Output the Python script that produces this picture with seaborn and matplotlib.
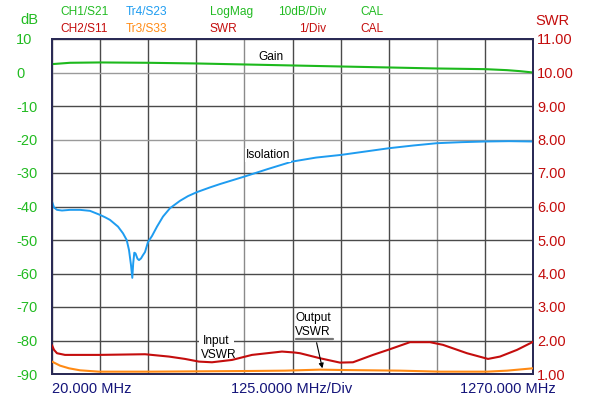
import matplotlib
matplotlib.use("Agg")
import matplotlib.pyplot as plt
import seaborn as sns
import pandas as pd
from matplotlib.lines import Line2D

sns.set_style("white")
plt.rcParams['font.family'] = ['Liberation Sans', 'DejaVu Sans']

# ---------------- data ----------------
gain_freq = [20, 66.8, 144.7, 269.5, 394.2, 519, 643.7, 768.4, 895.8, 1020.5, 1145.3, 1202.5, 1236.3, 1270]
gain_db = [2.5, 2.9, 3.0, 2.9, 2.7, 2.4, 2.1, 1.8, 1.5, 1.2, 1.0, 0.7, 0.4, 0.0]

iso_freq = [20, 25.2, 33, 46, 66.8, 92.8, 118.8, 144.7, 157.7, 170.7, 191.5, 204.5, 214.1, 220.1, 225.3,
            228.7, 231, 233.9, 237, 242.2, 246.1, 251.3, 256.5, 261.7, 269.5, 279.9, 292.9, 308.5,
            326.7, 352.7, 373.4, 396.8, 430.6, 456.6, 519, 581.3, 643.7, 706, 771, 833.4, 895.8,
            958.2, 1020.5, 1082.9, 1145.3, 1207.7, 1270]
iso_db = [-38.5, -40.3, -41.0, -41.2, -41.0, -41.0, -41.3, -42.5, -43.2, -44.0, -46.0, -48.0, -50.0, -53.0, -57.5,
          -61.3, -57, -53.8, -54, -55.6, -56, -55.5, -54.5, -53.6, -50.6, -48.8, -46.0, -43.0,
          -40.5, -38.3, -36.9, -35.7, -34.3, -33.3, -31.1, -28.8, -26.6, -25.4, -24.6, -23.6, -22.6,
          -21.8, -21.1, -20.8, -20.6, -20.5, -20.6]

in_freq = [20, 25.2, 33, 53.8, 142.1, 261.7, 324.1, 365.6, 402, 435.8, 487.8, 539.7, 617.7, 651.5,
           664.5, 716.5, 768.4, 802.2, 854.2, 893.2, 950.3, 1002.3, 1036.1, 1098.5, 1153.1, 1184.2,
           1228.4, 1270]
in_swr = [1.86, 1.72, 1.62, 1.57, 1.57, 1.59, 1.52, 1.45, 1.37, 1.35, 1.42, 1.57, 1.67, 1.64,
          1.62, 1.47, 1.34, 1.35, 1.57, 1.72, 1.95, 1.95, 1.87, 1.62, 1.45, 1.52,
          1.72, 1.96]

out_freq = [20, 40.8, 64.2, 92.8, 142.1, 274.7, 404.6, 534.6, 625.5, 716.5, 768.4, 924.4, 1028.3, 1150.5, 1202.5, 1270]
out_swr = [1.37, 1.25, 1.17, 1.11, 1.07, 1.07, 1.08, 1.09, 1.10, 1.13, 1.12, 1.10, 1.07, 1.07, 1.10, 1.17]

db_ticks = [10, 0, -10, -20, -30, -40, -50, -60, -70, -80, -90]
swr_ticks = [11, 10, 9, 8, 7, 6, 5, 4, 3, 2, 1]
freq_start, freq_stop, freq_div = 20, 1270, 125

# ---------------- colours ----------------
GREEN = '#1db91d'
BLUE = '#1e9cf0'
RED = '#c40d0d'
ORANGE = '#ff8a14'
NAVY = '#14147a'
TXT_GREEN = '#22bb22'

W, H = 600, 403
fig = plt.figure(figsize=(W / 100, H / 100), dpi=100)
L, R, T, B = 52, 533, 39, 374
ax = fig.add_axes([L / W, 1 - B / H, (R - L) / W, (B - T) / H])
ax2 = ax.twinx()

gain_df = pd.DataFrame({'freq': gain_freq, 'val': gain_db})
iso_df = pd.DataFrame({'freq': iso_freq, 'val': iso_db})
in_df = pd.DataFrame({'freq': in_freq, 'val': in_swr})
out_df = pd.DataFrame({'freq': out_freq, 'val': out_swr})

sns.lineplot(data=gain_df, x='freq', y='val', ax=ax, color=GREEN, lw=1.5, estimator=None, sort=False, zorder=5)
sns.lineplot(data=iso_df, x='freq', y='val', ax=ax, color=BLUE, lw=1.4, estimator=None, sort=False, zorder=5)
sns.lineplot(data=in_df, x='freq', y='val', ax=ax2, color=RED, lw=1.5, estimator=None, sort=False, zorder=5)
sns.lineplot(data=out_df, x='freq', y='val', ax=ax2, color=ORANGE, lw=1.5, estimator=None, sort=False, zorder=5)

ax.set_xlim(freq_start, freq_stop)
ax.set_ylim(-90, 10)
ax2.set_ylim(1, 11)
ax.set_xlabel(''); ax.set_ylabel(''); ax2.set_xlabel(''); ax2.set_ylabel('')

xt = [freq_start + i * freq_div for i in range(11)]
ax.set_xticks(xt)
ax.set_xticklabels([])
ax.set_yticks(db_ticks)
ax.set_yticklabels([str(v) for v in db_ticks])
ax2.set_yticks(swr_ticks)
ax2.set_yticklabels([f"{v:.2f}" for v in swr_ticks])

ax.tick_params(axis='x', length=0)
ax.tick_params(axis='y', length=0, labelsize=10.5, labelcolor=TXT_GREEN, pad=26)
for lab in ax.get_yticklabels():
    lab.set_horizontalalignment('left')
ax2.tick_params(axis='y', length=0, labelsize=10.5, labelcolor=RED, pad=3)

ax.grid(True, color='#4a4a4a', lw=1.0)
for i, gl in enumerate(ax.get_xgridlines()):
    if i in (4, 8):
        gl.set_color('#8a8a8a')
for i, gl in enumerate(ax.get_ygridlines()):
    if db_ticks[i] in (0, -20):
        gl.set_color('#9a9a9a')
ax.set_axisbelow(True)

for a in (ax, ax2):
    for s in a.spines.values():
        s.set_color('#2a2a55')
        s.set_linewidth(1.3)

def fx(x):
    return x / W

def fy(y):
    return 1 - y / H

hdr = 8.6
fig.text(fx(60), fy(12), 'CH1/S21', color=TXT_GREEN, fontsize=hdr, va='center')
fig.text(fx(60), fy(29), 'CH2/S11', color=RED, fontsize=hdr, va='center')
fig.text(fx(126), fy(12), 'Tr4/S23', color=BLUE, fontsize=hdr, va='center')
fig.text(fx(126), fy(29), 'Tr3/S33', color=ORANGE, fontsize=hdr, va='center')
fig.text(fx(210), fy(12), 'LogMag', color=TXT_GREEN, fontsize=hdr, va='center')
fig.text(fx(210), fy(29), 'SWR', color=RED, fontsize=hdr, va='center')
fig.text(fx(326), fy(12), '10dB/Div', color=TXT_GREEN, fontsize=hdr, va='center', ha='right')
fig.text(fx(326), fy(29), '1/Div', color=RED, fontsize=hdr, va='center', ha='right')
fig.text(fx(360), fy(12), 'CAL', color=TXT_GREEN, fontsize=hdr, va='center')
fig.text(fx(360), fy(29), 'CAL', color=RED, fontsize=hdr, va='center')

fig.text(fx(20), fy(20), 'dB', color=TXT_GREEN, fontsize=10.5, va='center')
fig.text(fx(535), fy(21), 'SWR', color=RED, fontsize=10.5, va='center')

fig.text(fx(52), fy(389), '20.000 MHz', color=NAVY, fontsize=10.5, va='center')
fig.text(fx(292), fy(389), '125.0000 MHz/Div', color=NAVY, fontsize=10.5, va='center', ha='center')
fig.text(fx(556), fy(389), '1270.000 MHz', color=NAVY, fontsize=10.5, va='center', ha='right')

# annotations (positions in pixel space of the figure)
ann = 8.6
fig.text(fx(271), fy(57), 'Gain', color='black', fontsize=ann, va='center', ha='center', zorder=10)
fig.text(fx(268), fy(155), 'Isolation', color='black', fontsize=ann, va='center', ha='center',
         bbox=dict(facecolor='white', edgecolor='none', pad=0.5), zorder=10)
fig.text(fx(203), fy(341), 'Input', color='black', fontsize=ann, va='center', ha='left',
         bbox=dict(facecolor='white', edgecolor='none', pad=3), zorder=10)
fig.text(fx(201), fy(355), 'VSWR', color='black', fontsize=ann, va='center', ha='left', zorder=10)
fig.text(fx(295), fy(318), 'Output', color='black', fontsize=ann, va='center', ha='left', zorder=10)
fig.text(fx(295), fy(332), 'VSWR', color='black', fontsize=ann, va='center', ha='left', zorder=10)
fig.add_artist(Line2D([fx(296), fx(333)], [fy(339), fy(339)], color='#777777', lw=1.6,
                      transform=fig.transFigure))
fig.add_artist(matplotlib.patches.FancyArrowPatch((fx(316), fy(340)), (fx(323), fy(371)),
                                                  transform=fig.transFigure, arrowstyle='-|>',
                                                  mutation_scale=7, color='black', lw=0.8))

fig.savefig('out.png', dpi=100, facecolor='white')
